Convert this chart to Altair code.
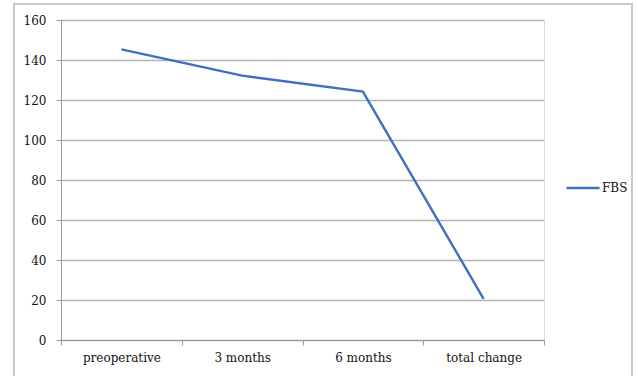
import altair as alt
import pandas as pd

# Fasting blood sugar over the follow-up period
stages = ["preoperative", "3 months", "6 months", "total change"]
fbs = [145.3, 132.2, 124.2, 20.6]
series = ["FBS"] * len(stages)

df = pd.DataFrame({"stage": stages, "value": fbs, "series": series})

SERIF = "DejaVu Serif"
GRID = "#b4b4b4"

line = alt.Chart(df).mark_line(strokeWidth=2.4).encode(
    x=alt.X(
        "stage:N",
        sort=stages,
        bandPosition=0.5,
        scale=alt.Scale(type="band", paddingInner=0, paddingOuter=0),
        axis=alt.Axis(
            title=None,
            labelAngle=0,
            tickBand="extent",
            grid=False,
            domainColor="#999999",
            tickColor="#999999",
            tickSize=5,
            labelPadding=7,
            labelFont=SERIF,
            labelFontSize=12,
            labelColor="#111111",
        ),
    ),
    y=alt.Y(
        "value:Q",
        scale=alt.Scale(domain=[0, 160], nice=False),
        axis=alt.Axis(
            title=None,
            values=list(range(0, 161, 20)),
            gridColor=GRID,
            gridWidth=1.3,
            domainColor="#999999",
            tickColor="#999999",
            tickSize=5,
            labelPadding=10,
            labelFont=SERIF,
            labelFontSize=12,
            labelColor="#111111",
        ),
    ),
    color=alt.Color(
        "series:N",
        scale=alt.Scale(range=["#3f6fc0"]),
        legend=alt.Legend(
            title=None,
            orient="none",
            legendX=504,
            legendY=150,
            symbolType="stroke",
            symbolSize=1100,
            symbolStrokeWidth=2.4,
            labelOffset=1,
            labelFont=SERIF,
            labelFontSize=12,
            labelColor="#111111",
        ),
    ),
)

# Outer chart frame
frame = alt.Chart(df).mark_rect(
    fill=None, stroke="#c8c8c8", strokeWidth=1.5
).encode(
    x=alt.value(-47), x2=alt.value(571), y=alt.value(-16), y2=alt.value(370)
)

chart = (
    alt.layer(frame, line)
    .properties(
        width=483,
        height=320,
        autosize=alt.AutoSizeParams(type="none"),
        padding={"left": 61, "top": 20, "right": 94, "bottom": 36},
    )
    .configure_view(stroke=None)
    .configure(background="white")
)

chart.save("out.html", embed_options={"renderer": "svg", "actions": False})
